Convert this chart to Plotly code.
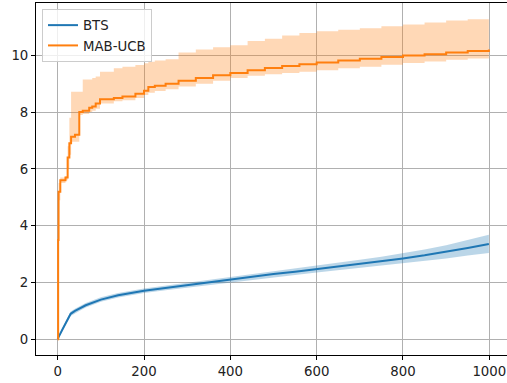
import plotly.graph_objects as go

# BTS series
bts_x = [0, 2, 10, 20, 30, 40, 50, 65, 100, 140, 200, 250, 300, 350, 400, 450, 500,
         550, 600, 650, 700, 750, 800, 850, 900, 950, 999]
bts_mean = [0, 0.08, 0.32, 0.62, 0.9, 1.0, 1.08, 1.2, 1.4, 1.55, 1.71, 1.81, 1.9, 2.0, 2.1,
            2.2, 2.3, 2.38, 2.47, 2.56, 2.66, 2.75, 2.85, 2.96, 3.08, 3.22, 3.36]
bts_upper = [0, 0.1, 0.38, 0.69, 0.98, 1.08, 1.16, 1.28, 1.48, 1.63, 1.79, 1.89, 1.98,
             2.09, 2.19, 2.3, 2.4, 2.49, 2.59, 2.69, 2.8, 2.91, 3.03, 3.16, 3.31, 3.49, 3.68]
bts_lower = [0, 0.06, 0.26, 0.55, 0.82, 0.92, 1.0, 1.12, 1.32, 1.47, 1.63, 1.73, 1.82,
             1.91, 2.01, 2.1, 2.2, 2.27, 2.35, 2.43, 2.52, 2.59, 2.67, 2.76, 2.85, 2.95, 3.04]

# MAB-UCB series (step function)
ucb_x = [0, 1, 2, 6, 18, 23, 27, 31, 40, 50, 58, 73, 80, 88, 98, 130, 150, 180, 200,
         210, 225, 250, 280, 320, 360, 400, 440, 480, 520, 560, 600, 650, 700, 750,
         800, 850, 900, 950, 999]
ucb_mean = [0, 3.5, 5.2, 5.6, 5.7, 6.4, 6.9, 7.13, 7.2, 8.0, 8.05, 8.15, 8.2, 8.3, 8.45,
            8.5, 8.55, 8.65, 8.75, 8.88, 8.93, 9.0, 9.1, 9.2, 9.3, 9.38, 9.47, 9.55,
            9.62, 9.68, 9.75, 9.82, 9.88, 9.94, 9.99, 10.04, 10.1, 10.15, 10.2]
ucb_upper = [0, 4.0, 5.5, 5.7, 5.75, 6.8, 7.8, 8.72, 8.72, 8.72, 9.15, 9.15, 9.2, 9.25,
             9.42, 9.54, 9.6, 9.66, 9.72, 9.77, 9.82, 9.86, 10.1, 10.2, 10.28, 10.35,
             10.5, 10.58, 10.7, 10.78, 10.85, 10.9, 10.95, 11.02, 11.08, 11.15, 11.22,
             11.27, 11.3]
ucb_lower = [0, 3.0, 4.9, 5.5, 5.6, 6.0, 6.5, 6.96, 6.96, 7.9, 7.93, 8.0, 8.05, 8.12,
             8.3, 8.38, 8.42, 8.5, 8.6, 8.68, 8.74, 8.8, 8.9, 9.0, 9.1, 9.2, 9.28, 9.33,
             9.38, 9.42, 9.47, 9.54, 9.6, 9.67, 9.73, 9.78, 9.84, 9.89, 9.93]

x_ticks = [0, 200, 400, 600, 800, 1000]
y_ticks = [0, 2, 4, 6, 8, 10]

BLUE = "#1f77b4"
ORANGE = "#ff7f0e"

fig = go.Figure()

# BTS band + line
fig.add_trace(go.Scatter(x=bts_x, y=bts_lower, mode="lines", line=dict(width=0),
                         showlegend=False, hoverinfo="skip"))
fig.add_trace(go.Scatter(x=bts_x, y=bts_upper, mode="lines", line=dict(width=0),
                         fill="tonexty", fillcolor="rgba(31,119,180,0.3)",
                         showlegend=False, hoverinfo="skip"))
fig.add_trace(go.Scatter(x=bts_x, y=bts_mean, mode="lines", name="BTS",
                         line=dict(color=BLUE, width=2)))

# MAB-UCB band + line
fig.add_trace(go.Scatter(x=ucb_x, y=ucb_lower, mode="lines", line=dict(width=0, shape="hv"),
                         showlegend=False, hoverinfo="skip"))
fig.add_trace(go.Scatter(x=ucb_x, y=ucb_upper, mode="lines", line=dict(width=0, shape="hv"),
                         fill="tonexty", fillcolor="rgba(255,127,14,0.3)",
                         showlegend=False, hoverinfo="skip"))
fig.add_trace(go.Scatter(x=ucb_x, y=ucb_mean, mode="lines", name="MAB-UCB",
                         line=dict(color=ORANGE, width=2, shape="hv")))

font = dict(family="DejaVu Sans", size=13.3, color="#222222")

fig.update_layout(
    width=507, height=383,
    margin=dict(l=36, r=0, t=3, b=28),
    paper_bgcolor="white", plot_bgcolor="white",
    font=font,
    showlegend=True,
    legend=dict(x=0.0127, y=0.983, xanchor="left", yanchor="top",
                bgcolor="rgba(255,255,255,0.8)", bordercolor="#cccccc", borderwidth=1,
                font=font, traceorder="normal"),
    xaxis=dict(range=[-50.3, 1041], tickvals=x_ticks, ticktext=[str(v) for v in x_ticks],
               showgrid=True, gridcolor="#b0b0b0", gridwidth=0.8, zeroline=False,
               showline=True, linecolor="black", linewidth=1, mirror=True,
               ticks="outside", ticklen=4, tickcolor="black", tickwidth=1),
    yaxis=dict(range=[-0.55, 11.84], tickvals=y_ticks, ticktext=[str(v) for v in y_ticks],
               showgrid=True, gridcolor="#b0b0b0", gridwidth=0.8, zeroline=False,
               showline=True, linecolor="black", linewidth=1, mirror=False,
               ticks="outside", ticklen=4, tickcolor="black", tickwidth=1),
)

fig.write_html("out.html", config={"displayModeBar": False},
               post_script="document.body.style.margin='0';document.body.style.overflow='hidden';")
